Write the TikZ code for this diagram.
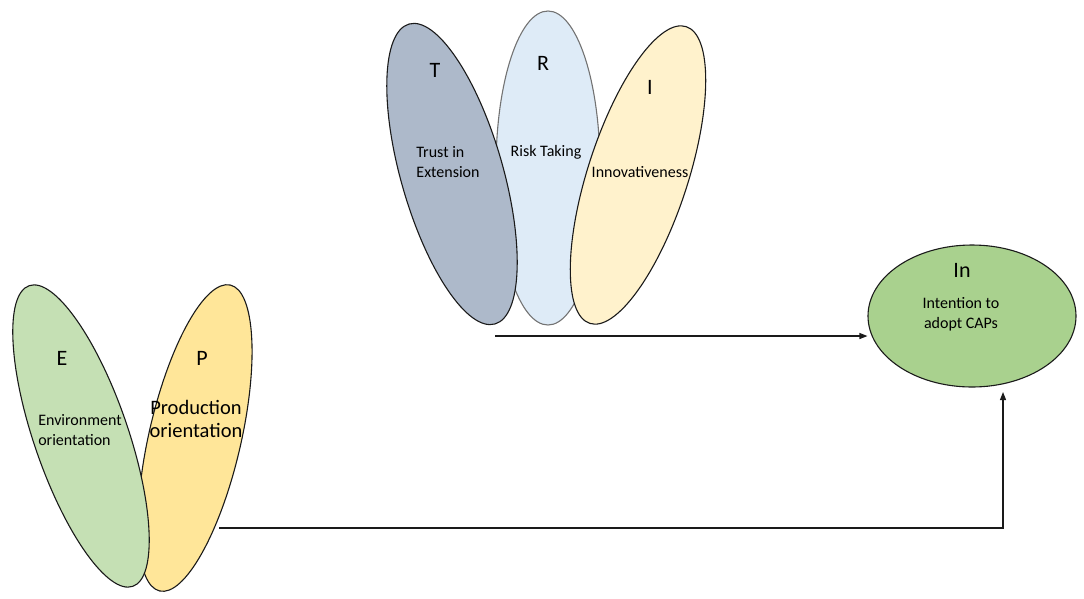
\documentclass[tikz,border=0pt]{standalone}
\usepackage{fontspec}
\setmainfont{Carlito}
\usetikzlibrary{shapes.geometric,arrows.meta}
\definecolor{cT}{HTML}{ADB9CA}
\definecolor{cR}{HTML}{DEEBF7}
\definecolor{cI}{HTML}{FFF2CC}
\definecolor{cE}{HTML}{C5E0B4}
\definecolor{cP}{HTML}{FFE699}
\definecolor{cIn}{HTML}{A9D18E}
\definecolor{edge}{HTML}{1A1A1A}
\tikzset{
  oval/.style={ellipse, draw=edge, line width=1.1pt, inner sep=0pt},
  big/.style={font=\fontsize{22}{26}\selectfont},
  small/.style={font=\fontsize{16}{20}\selectfont, align=left},
  link/.style={line width=1.1pt, draw=edge, -{Triangle[length=8pt,width=6pt]}}
}
\begin{document}
\begin{tikzpicture}[x=1pt,y=1pt]
\useasboundingbox (0,0) rectangle (1084,-598);
% top group
\node[oval, fill=cR, draw=black!55, minimum width=104pt, minimum height=314pt] (R) at (548,-168) {};
\node[oval, fill=cT, minimum width=102pt, minimum height=312pt, rotate=16] (T) at (452,-174) {};
\node[oval, fill=cI, minimum width=100pt, minimum height=312pt, rotate=-18] (I) at (638,-175) {};
% left group
\node[oval, fill=cP, minimum width=92pt, minimum height=314pt, rotate=-13] (P) at (195,-438) {};
\node[oval, fill=cE, minimum width=94pt, minimum height=318pt, rotate=19] (E) at (81,-436) {};
% target
\node[oval, fill=cIn, minimum width=208pt, minimum height=142pt] (In) at (972,-316) {};
% letters
\node[big] (tT) at (435,-70) {T};
\node[big] (tR) at (543,-63) {R};
\node[big] (tI) at (650,-87) {I};
\node[big] (tE) at (62,-358) {E};
\node[big] (tP) at (202,-358) {P};
\node[big] (tIn) at (962,-270) {In};
% labels
\node[small] (lT) at (448,-162) {Trust in\\Extension};
\node[small] (lR) at (546,-152) {Risk Taking};
\node[small] (lI) at (640,-172) {Innovativeness};
\node[small] (lE) at (80,-430) {Environment\\orientation};
\node[font=\fontsize{20.5}{23}\selectfont, align=center] (lP) at (196,-419) {Production\\orientation};
\node[small, align=center] (lIn) at (961,-314) {Intention to\\adopt CAPs};
% connectors
\coordinate (ts) at (495,-336);
\coordinate (ps) at (219,-528);
\coordinate (up) at (1003,-392);
\draw[link] (ts) -- (ts -| In.west);
\draw[link] (ps) -| (up);
\end{tikzpicture}
\end{document}
